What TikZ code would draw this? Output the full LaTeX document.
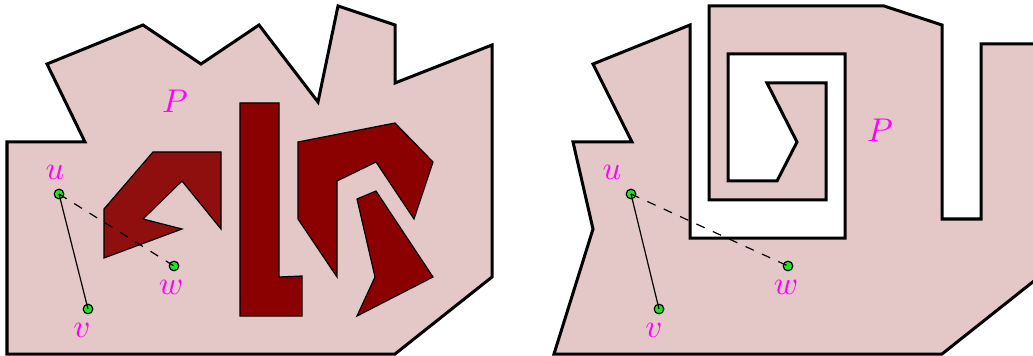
\documentclass[tikz,border=0pt]{standalone}
\usetikzlibrary{calc}
\definecolor{pfill}{RGB}{228,200,200}
\definecolor{holeA}{RGB}{143,14,14}
\definecolor{holeB}{RGB}{139,0,0}
\definecolor{ptgreen}{RGB}{30,230,30}
\definecolor{lblmag}{RGB}{255,0,255}
\tikzset{
  outerpoly/.style={fill=pfill, draw=black, line width=1pt, line join=miter},
  holepoly/.style={draw=black, line width=0.4pt},
  dot/.style={circle, fill=ptgreen, draw=black, line width=0.4pt, inner sep=0pt, minimum size=3.2pt},
  lbl/.style={text=lblmag, inner sep=0pt, font=\fontsize{11}{13}\selectfont},
  seg/.style={draw=black, line width=0.4pt},
}
\begin{document}
\begin{tikzpicture}[x=0.3333pt, y=-0.3333pt]
\useasboundingbox (0,0) rectangle (1033,356);
\clip (0,0) rectangle (1033,356);
% ---------- left figure ----------
\draw[outerpoly] (7,142) -- (85,142) -- (47,64) -- (143,25) -- (201,64) -- (259,25)
  -- (318,102) -- (338,6) -- (395,25) -- (395,83) -- (492,45) -- (492,277)
  -- (395,354) -- (7,354) -- cycle;
\draw[holepoly, fill=holeA] (153,152) -- (221,152) -- (221,229) -- (182,181) -- (143,219)
  -- (182,229) -- (104,258) -- (104,209) -- cycle;
\draw[holepoly, fill=holeB] (240,103) -- (279,103) -- (279,277) -- (302,276) -- (302,316)
  -- (240,316) -- cycle;
\draw[holepoly, fill=holeB] (298,142) -- (395,123) -- (433,162) -- (414,219) -- (376,162)
  -- (337,181) -- (337,277) -- (298,219) -- cycle;
\draw[holepoly, fill=holeB] (357,199) -- (376,191) -- (433,277) -- (357,316) -- (375,277) -- cycle;
\node[dot] (u1) at (59,194) {};
\node[dot] (v1) at (88,309) {};
\node[dot] (w1) at (174,266) {};
\draw[seg] (u1.center) -- (v1.center);
\draw[seg, dashed] (u1.center) -- (w1.center);
\node[lbl] (lu1) at (55,172) {$u$};
\node[lbl] (lv1) at (82,330) {$v$};
\node[lbl] (lw1) at (171,287) {$w$};
\node[lbl] (lP1) at (175,101) {$P$};
% ---------- right figure ----------
\draw[outerpoly] (554,354) -- (942,354) -- (1039,277) -- (1039,44) -- (981,44)
  -- (981,219) -- (942,219) -- (942,25) -- (884,6) -- (709,6) -- (709,200)
  -- (826,200) -- (826,83) -- (767,83) -- (797,142) -- (777,181) -- (728,181)
  -- (728,54) -- (845,54) -- (845,238) -- (690,238) -- (690,25) -- (593,64)
  -- (632,142) -- (573,142) -- (593,229) -- cycle;
\node[dot] (u2) at (631,194) {};
\node[dot] (v2) at (659,309) {};
\node[dot] (w2) at (788,266) {};
\draw[seg] (u2.center) -- (v2.center);
\draw[seg, dashed] (u2.center) -- (w2.center);
\node[lbl] (lu2) at (612,172) {$u$};
\node[lbl] (lv2) at (654,330) {$v$};
\node[lbl] (lw2) at (786,287) {$w$};
\node[lbl] (lP2) at (880,130) {$P$};
\end{tikzpicture}
\end{document}
